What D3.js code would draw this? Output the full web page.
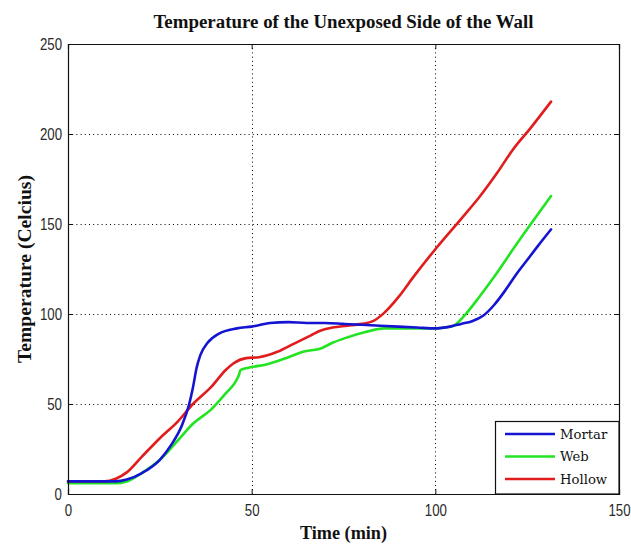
<!DOCTYPE html>
<html><head><meta charset="utf-8">
<script src="https://cdn.jsdelivr.net/npm/d3@7"></script>
<style>
html,body{margin:0;padding:0;background:#fff;}
svg{display:block;}
.tick text{font-family:"Liberation Sans",Arial,sans-serif;font-size:17px;fill:#2a2a2a;}
</style></head>
<body>
<script>
// ---- data ----
const seriesNames = ["Mortar", "Web", "Hollow"];
const seriesColors = ["#1414d2", "#22e422", "#e01c1c"];

const mortarTime = [0,5,10,13,16,20,25,28,31,33,34,35,36,38,41,46,50,55,60,65,70,75,80,85,90,95,100,104,107,110,113,116,119,122,125,128,131.5];
const mortarTemp = [7,7,7,7,8,11.5,19,27,38,50,59,70,77,84,89,92,93,95,95.5,95,95,94.5,94,93.5,93,92.5,92,93,94.5,96,99,105,113,122,130,138,147];

const webTime = [0,5,10,13,16,20,25,30,34,39,43,45.5,46.5,47,50,54,60,64,69,72,76,81,86,90,95,100,104.5,108.5,112,116.7,121,125.8,131.5];
const webTemp = [6,6,6,6,7,11.5,19,30,39,47,56,62,66,69,70.5,72,76,79,81,84,87,90,92,92,92,92,93,100.5,109.6,122.6,135.5,149.4,165.5];

const hollowTime = [0,5,10,13,16,20,25,30,34,39,43,45,48.5,52,57,61,66,69,72,76,80,83,86,90,94,100,107.5,112,116.7,121,125.8,131.5];
const hollowTemp = [7,7,7,8.5,12,20.5,31,40.5,50,59.5,69,72.5,75.5,76,79,83,88,91,92.5,93.5,94.5,96,100.5,109.5,120.5,136,154,165,178,191,203,218];

const xTicks = [0,50,100,150];
const yTicks = [0,50,100,150,200,250];

const titleText = "Temperature of the Unexposed Side of the Wall";
const xLabel = "Time (min)";
const yLabel = "Temperature (Celcius)";

// ---- layout ----
const W = 631, H = 546;
const L = 68, R = 619, T = 44, B = 494;

const svg = d3.select("body").append("svg").attr("width", W).attr("height", H);

const x = d3.scaleLinear().domain([0,150]).range([L,R]);
const y = d3.scaleLinear().domain([0,250]).range([B,T]);

// grid
const grid = svg.append("g").attr("stroke","#000").attr("stroke-width",1).attr("stroke-dasharray","1,3.2").attr("fill","none");
xTicks.filter(v=>v>0 && v<150).forEach(v=>{
  grid.append("line").attr("x1",Math.round(x(v))+0.5).attr("x2",Math.round(x(v))+0.5).attr("y1",T).attr("y2",B);
});
yTicks.filter(v=>v>0 && v<250).forEach(v=>{
  grid.append("line").attr("x1",L).attr("x2",R).attr("y1",Math.round(y(v))+0.5).attr("y2",Math.round(y(v))+0.5);
});

// series
const series = [
  {name:seriesNames[0], color:seriesColors[0], t:mortarTime, v:mortarTemp},
  {name:seriesNames[1], color:seriesColors[1], t:webTime, v:webTemp},
  {name:seriesNames[2], color:seriesColors[2], t:hollowTime, v:hollowTemp}
];
const line = d3.line().x(d=>x(d[0])).y(d=>y(d[1])).curve(d3.curveMonotoneX);
[series[1], series[2], series[0]].forEach(s=>{
  svg.append("path").datum(d3.zip(s.t, s.v))
    .attr("d", line).attr("fill","none").attr("stroke", s.color)
    .attr("stroke-width", 2.6).attr("stroke-linejoin","round").attr("stroke-linecap","round");
});

// axes (ticks inward, box)
const axB = svg.append("g").attr("transform",`translate(0,${B})`)
  .call(d3.axisBottom(x).tickValues(xTicks).tickSize(-5).tickPadding(10).tickFormat(d3.format("d")));
const axL = svg.append("g").attr("transform",`translate(${L},0)`)
  .call(d3.axisLeft(y).tickValues(yTicks).tickSize(-5).tickPadding(6).tickFormat(d3.format("d")));
const axT = svg.append("g").attr("transform",`translate(0,${T})`)
  .call(d3.axisTop(x).tickValues(xTicks).tickSize(-5).tickFormat(""));
const axR = svg.append("g").attr("transform",`translate(${R},0)`)
  .call(d3.axisRight(y).tickValues(yTicks).tickSize(-5).tickFormat(""));
[axB,axL,axT,axR].forEach(a=>{
  a.select(".domain").attr("stroke","#111").attr("stroke-width",1.2);
  a.selectAll(".tick line").attr("stroke","#111");
});
// narrow tick-label face (condensed look of the reference)
axB.selectAll(".tick text").each(function(){
  const t = d3.select(this); const yy = t.attr("y");
  t.attr("y", null).attr("transform", `translate(0,${yy}) scale(0.78,1)`);
});
axL.selectAll(".tick text").each(function(){
  const t = d3.select(this); const xx = t.attr("x");
  t.attr("x", null).attr("transform", `translate(${xx},0) scale(0.78,1)`);
});

// title and labels
const serif = "'Liberation Serif','Times New Roman',serif";
svg.append("text").attr("x",(L+R)/2).attr("y",28).attr("text-anchor","middle")
  .attr("font-family",serif).attr("font-weight","bold").attr("font-size",18)
  .attr("textLength",380).attr("lengthAdjust","spacingAndGlyphs")
  .attr("fill","#111").text(titleText);
svg.append("text").attr("x",(L+R)/2).attr("y",539).attr("text-anchor","middle")
  .attr("font-family",serif).attr("font-weight","bold").attr("font-size",18)
  .attr("textLength",87).attr("lengthAdjust","spacingAndGlyphs")
  .attr("fill","#111").text(xLabel);
svg.append("text").attr("transform",`translate(31,${(T+B)/2}) rotate(-90)`).attr("text-anchor","middle")
  .attr("font-family",serif).attr("font-weight","bold").attr("font-size",18)
  .attr("textLength",188).attr("lengthAdjust","spacingAndGlyphs")
  .attr("fill","#111").text(yLabel);

// legend
const lg = svg.append("g");
lg.append("rect").attr("x",495.5).attr("y",421.5).attr("width",R-495.5).attr("height",B-421.5)
  .attr("fill","#fff").attr("stroke","#111").attr("stroke-width",1.2);
series.forEach((s,i)=>{
  const yy = 434 + i*22.5;
  lg.append("line").attr("x1",505).attr("x2",555).attr("y1",yy).attr("y2",yy)
    .attr("stroke",s.color).attr("stroke-width",2.6);
  lg.append("text").attr("x",560).attr("y",yy+4.5)
    .attr("font-family","'DejaVu Serif',serif").attr("font-size",13.2).attr("fill","#111").text(s.name);
});
</script>
</body></html>
